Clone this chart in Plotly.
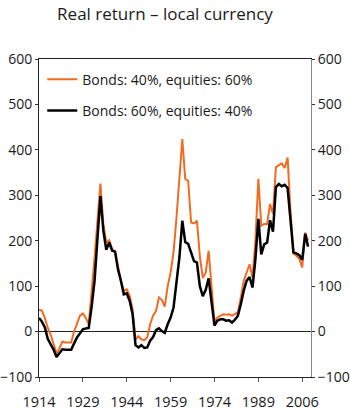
import plotly.graph_objects as go

# Real return in local currency for two bond/equity mixes
title_text = "Real return – local currency"
tick_labels = ["1914", "1929", "1944", "1959", "1974", "1989", "2006"]
series_names = ["Bonds: 40%, equities: 60%", "Bonds: 60%, equities: 40%"]

bonds40_equities60 = [
    48, 46, 30, 8, -7, -28, -48, -37, -22, -24,
    -24, -24, 0, 20, 35, 40, 30, 16, 85, 163,
    245, 326, 237, 196, 201, 182, 176, 141, 112, 90,
    93, 79, 49, -17, -10, -17, -19, -13, 16, 35,
    45, 75, 70, 55, 100, 130, 175, 250, 332, 424,
    336, 332, 240, 238, 244, 165, 118, 130, 178, 100,
    22, 31, 35, 38, 37, 38, 35, 38, 42, 75,
    112, 130, 148, 119, 200, 336, 233, 237, 237, 281,
    259, 362, 367, 370, 360, 383, 265, 172, 167, 160,
    141, 218, 200,
]

bonds60_equities40 = [
    30, 22, 9, -16, -28, -40, -56, -48, -39, -40,
    -40, -40, -26, -13, -4, 5, 7, 8, 55, 112,
    205, 298, 222, 180, 196, 178, 176, 137, 112, 82,
    84, 68, 38, -30, -35, -30, -36, -35, -20, -12,
    3, 7, 1, -3, 16, 31, 53, 104, 163, 244,
    197, 193, 175, 155, 152, 100, 78, 92, 117, 60,
    13, 24, 27, 27, 24, 25, 20, 26, 35, 60,
    90, 112, 120, 97, 160, 248, 170, 192, 196, 245,
    220, 318, 325, 320, 323, 316, 250, 174, 172, 168,
    158, 215, 187,
]

ORANGE = "#F26B21"
FONT = "Open Sans"
TEXT = "#1a1a1a"

obs = list(range(len(bonds40_equities60)))
tick_step = 15
tick_pos = [i * tick_step for i in range(len(tick_labels))]

fig = go.Figure()
fig.add_trace(go.Scatter(
    x=obs, y=bonds40_equities60, mode="lines", name=series_names[0],
    line=dict(color=ORANGE, width=2), legendgroup="a",
))
fig.add_trace(go.Scatter(
    x=obs, y=bonds60_equities40, mode="lines", name=series_names[1],
    line=dict(color="black", width=2.5), legendgroup="b",
))
# carrier for the right-hand axis
fig.add_trace(go.Scatter(
    x=[obs[0]], y=[None], yaxis="y2", mode="lines",
    showlegend=False, hoverinfo="skip",
))

yticks = dict(
    range=[-100, 600], tickvals=list(range(-100, 601, 100)),
    ticks="outside", ticklen=3, tickcolor="#333",
    tickfont=dict(family=FONT, size=14, color=TEXT),
    showgrid=False, fixedrange=True, automargin=False,
)

fig.update_layout(
    width=350, height=412,
    margin=dict(l=39, r=39, t=59, b=35),
    paper_bgcolor="white", plot_bgcolor="white",
    title=dict(
        text=title_text, x=165 / 350, xanchor="center", xref="container",
        y=1 - 14 / 412, yanchor="middle", yref="container",
        font=dict(family=FONT, size=17, color=TEXT),
    ),
    xaxis=dict(
        range=[0, len(obs)], tickvals=tick_pos, ticktext=tick_labels,
        ticks="outside", ticklen=4, tickcolor="#555",
        tickfont=dict(family=FONT, size=14.5, color=TEXT),
        ticklabelstandoff=8, automargin=False,
        showline=True, linecolor="#222", linewidth=1, mirror=True,
        showgrid=False, zeroline=False,
    ),
    yaxis=dict(
        **yticks, side="left", showline=True, linecolor="#222", linewidth=1,
        zeroline=True, zerolinecolor="#222", zerolinewidth=1,
    ),
    yaxis2=dict(
        **yticks, side="right", overlaying="y", showline=True,
        linecolor="#888", linewidth=1, zeroline=False,
    ),
    showlegend=True,
    legend=dict(
        x=0.012, y=0.985, xanchor="left", yanchor="top",
        bgcolor="rgba(0,0,0,0)", tracegroupgap=10,
        font=dict(family=FONT, size=14, color=TEXT),
        traceorder="grouped",
    ),
)

fig.write_html("out.html")
